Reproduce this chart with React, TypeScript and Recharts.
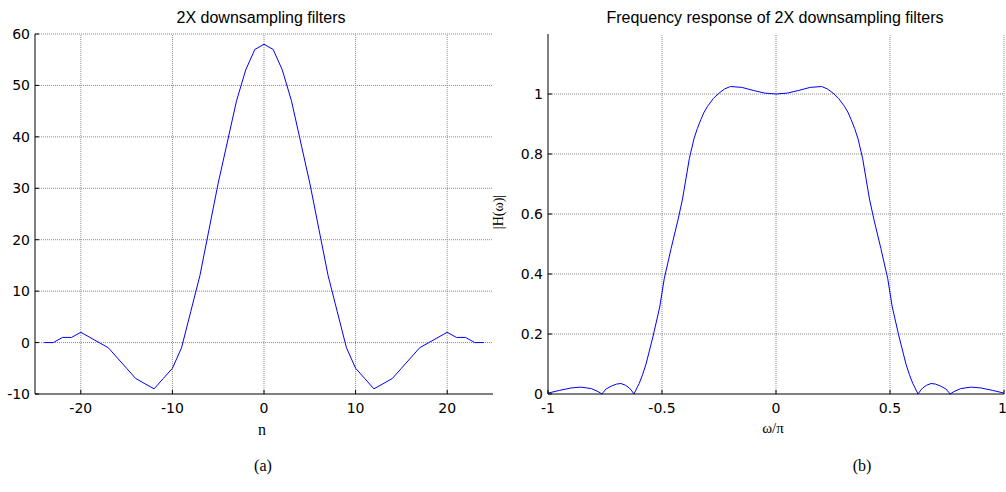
import { LineChart, Line, XAxis, YAxis, ReferenceLine } from "recharts";

// impulse response, n = -24..24
const TAP_INDEX = [
  -24, -23, -22, -21, -20, -19, -18, -17, -16, -15, -14, -13, -12, -11, -10, -9, -8, -7, -6, -5, -4, -3, -2, -1, 0,
  1, 2, 3, 4, 5, 6, 7, 8, 9, 10, 11, 12, 13, 14, 15, 16, 17, 18, 19, 20, 21, 22, 23, 24,
];
const TAP_VALUES = [
  0, 0, 1, 1, 2, 1, 0, -1, -3, -5, -7, -8, -9, -7, -5, -1, 6, 13, 22, 31, 39, 47, 53, 57, 58,
  57, 53, 47, 39, 31, 22, 13, 6, -1, -5, -7, -9, -8, -7, -5, -3, -1, 0, 1, 2, 1, 1, 0, 0,
];

// |H(w)|, w in units of pi
const FREQ_W = [
  -1, -0.95, -0.9, -0.856, -0.81, -0.78, -0.764, -0.745, -0.72, -0.7, -0.68, -0.66, -0.645, -0.635, -0.623,
  -0.61, -0.6, -0.585, -0.57, -0.54, -0.51, -0.49, -0.46, -0.43, -0.41, -0.38, -0.36, -0.345, -0.33, -0.315,
  -0.3, -0.275, -0.25, -0.225, -0.2, -0.15, -0.1, -0.05, 0,
  0.05, 0.1, 0.15, 0.2, 0.225, 0.25, 0.275, 0.3, 0.315, 0.33, 0.345, 0.36, 0.38, 0.41, 0.43, 0.46, 0.49,
  0.51, 0.54, 0.57, 0.585, 0.6, 0.61, 0.623, 0.635, 0.645, 0.66, 0.68, 0.7, 0.72, 0.745, 0.764, 0.78, 0.81,
  0.856, 0.9, 0.95, 1,
];
const FREQ_H = [
  0.003, 0.012, 0.02, 0.023, 0.018, 0.008, 0, 0.017, 0.027, 0.033, 0.035, 0.029, 0.021, 0.013, 0,
  0.02, 0.035, 0.065, 0.1, 0.19, 0.29, 0.385, 0.485, 0.58, 0.65, 0.785, 0.85, 0.885, 0.914, 0.94,
  0.959, 0.985, 1.003, 1.017, 1.025, 1.022, 1.012, 1.003, 1,
  1.003, 1.012, 1.022, 1.025, 1.017, 1.003, 0.985, 0.959, 0.94, 0.914, 0.885, 0.85, 0.785, 0.65, 0.58, 0.485, 0.385,
  0.29, 0.19, 0.1, 0.065, 0.035, 0.02, 0, 0.013, 0.021, 0.029, 0.035, 0.033, 0.027, 0.017, 0, 0.008, 0.018,
  0.023, 0.02, 0.012, 0.003,
];

const N_TICKS = [-20, -10, 0, 10, 20];
const TAP_TICKS = [-10, 0, 10, 20, 30, 40, 50, 60];
const W_TICKS = [-1, -0.5, 0, 0.5, 1];
const H_TICKS = [0, 0.2, 0.4, 0.6, 0.8, 1];

const BLUE = "#0000ff";
const GRID = "#8a8a8a";
const DASH = "1 1";
const tickFont = { fontSize: 14, fill: "#000", fontFamily: "DejaVu Sans" };

const tapData = TAP_INDEX.map((n, i) => ({ n, h: TAP_VALUES[i] }));
const freqData = FREQ_W.map((w, i) => ({ w, h: FREQ_H[i] }));

// matlab-style dotted grid, drawn as reference lines at the tick values
function gridLines(xs: number[], ys: number[]) {
  return [
    ...xs.map((t) => <ReferenceLine key={"x" + t} x={t} stroke={GRID} strokeDasharray={DASH} />),
    ...ys.map((t) => <ReferenceLine key={"y" + t} y={t} stroke={GRID} strokeDasharray={DASH} />),
  ];
}

function FilterPlot() {
  return (
    <LineChart width={500} height={420} data={tapData} margin={{ top: 34, right: 7, bottom: 0, left: 5 }}>
      {gridLines(N_TICKS, TAP_TICKS.slice(1))}
      <XAxis dataKey="n" type="number" domain={[-25, 25]} ticks={N_TICKS} height={26}
        stroke="#000" tick={tickFont} tickSize={-4} tickMargin={13} />
      <YAxis type="number" domain={[-10, 60]} ticks={TAP_TICKS} width={30}
        stroke="#000" tick={tickFont} tickSize={-4} tickMargin={9} />
      <Line dataKey="h" type="linear" stroke={BLUE} strokeWidth={1} dot={false} isAnimationActive={false} />
    </LineChart>
  );
}

function ResponsePlot() {
  return (
    <LineChart width={506} height={420} data={freqData} margin={{ top: 34, right: 2, bottom: 0, left: 0 }}>
      {gridLines(W_TICKS.slice(1), H_TICKS.slice(1))}
      <XAxis dataKey="w" type="number" domain={[-1, 1]} ticks={W_TICKS} height={26}
        stroke="#000" tick={tickFont} tickSize={-4} tickMargin={13} />
      <YAxis type="number" domain={[0, 1.2]} ticks={H_TICKS} width={48}
        stroke="#000" tick={tickFont} tickSize={-4} tickMargin={9} />
      <Line dataKey="h" type="linear" stroke={BLUE} strokeWidth={1} dot={false} isAnimationActive={false} />
    </LineChart>
  );
}

export default function App() {
  return (
    <div style={{ position: "absolute", left: 0, top: 0, width: 1006, height: 492, background: "#fff", overflow: "hidden" }}>
      <div style={{ position: "absolute", left: 0, top: 0 }}>
        <FilterPlot />
      </div>
      <div style={{ position: "absolute", left: 500, top: 0 }}>
        <ResponsePlot />
      </div>
      <svg width={1006} height={492} style={{ position: "absolute", left: 0, top: 0, pointerEvents: "none" }}>
        <g fontFamily="Liberation Sans" fontSize={16} textAnchor="middle" fill="#000">
          <text x={261} y={23}>2X downsampling filters</text>
          <text x={775} y={23}>Frequency response of 2X downsampling filters</text>
        </g>
        <g fontFamily="Liberation Serif" textAnchor="middle" fill="#000">
          <text x={262} y={435} fontSize={16}>n</text>
          <text x={773} y={433} fontSize={15}>ω/π</text>
          <text x={263} y={471} fontSize={16}>(a)</text>
          <text x={862} y={471} fontSize={16}>(b)</text>
          <text x={503} y={212} fontSize={14} transform="rotate(-90, 503, 212)">|H(ω)|</text>
        </g>
      </svg>
    </div>
  );
}
